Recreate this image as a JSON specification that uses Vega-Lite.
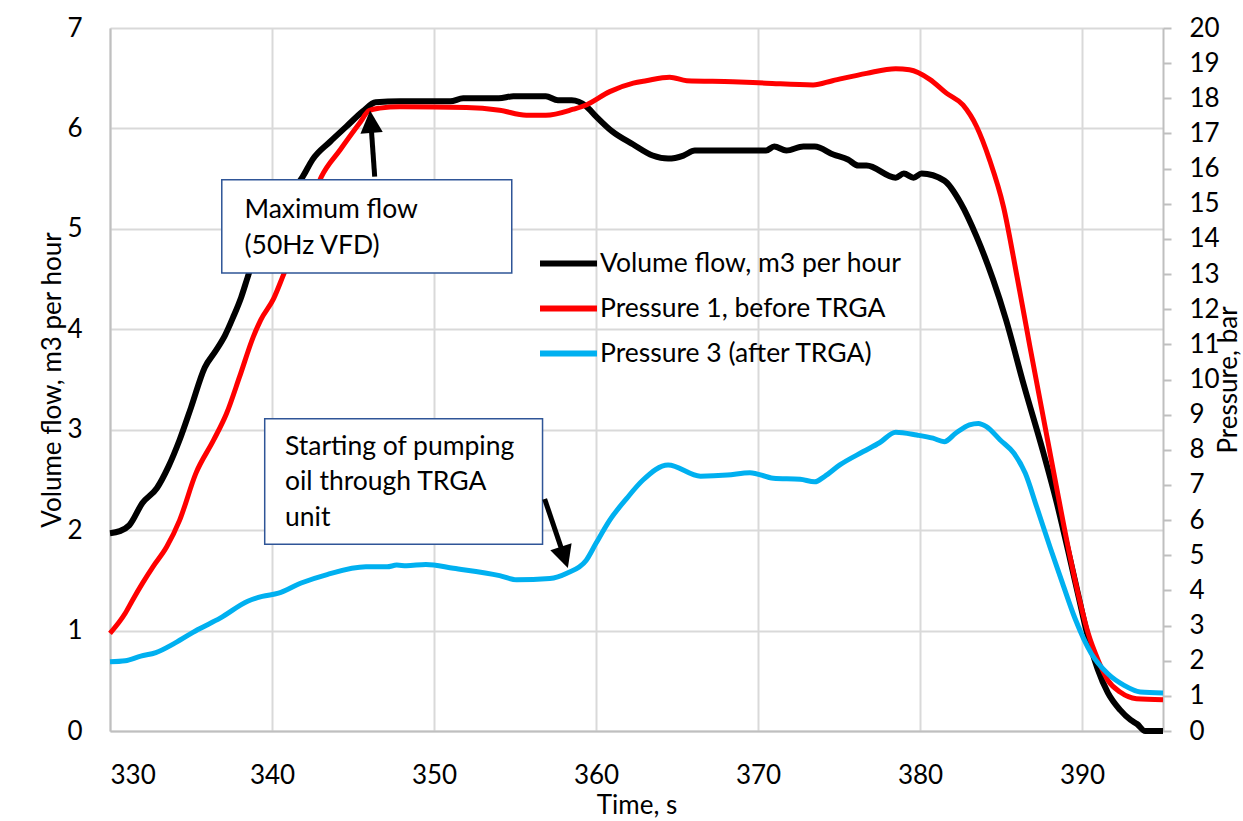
{
  "$schema": "https://vega.github.io/schema/vega-lite/v6.json",
  "width": 1053,
  "height": 703,
  "autosize": {"type": "none"},
  "padding": {"left": 110, "top": 28, "right": 80, "bottom": 90},
  "background": "white",
  "config": {
    "font": "Lato",
    "view": {"stroke": null},
    "axis": {
      "labelFont": "Lato",
      "titleFont": "Lato",
      "labelFontSize": 26,
      "titleFontSize": 26,
      "titleFontWeight": "normal",
      "labelColor": "#000000",
      "titleColor": "#000000",
      "domainColor": "#bfbfbf",
      "domainWidth": 2,
      "gridColor": "#d9d9d9",
      "gridWidth": 2,
      "tickColor": "#bfbfbf",
      "tickWidth": 2
    }
  },
  "datasets": {
    "series": [
      {"t": 330.0, "series": "Volume flow, m3 per hour", "value": 1.97},
      {"t": 330.6, "series": "Volume flow, m3 per hour", "value": 1.99},
      {"t": 331.2, "series": "Volume flow, m3 per hour", "value": 2.05},
      {"t": 332.0, "series": "Volume flow, m3 per hour", "value": 2.27},
      {"t": 332.9, "series": "Volume flow, m3 per hour", "value": 2.42},
      {"t": 333.6, "series": "Volume flow, m3 per hour", "value": 2.63},
      {"t": 334.3, "series": "Volume flow, m3 per hour", "value": 2.9},
      {"t": 335.0, "series": "Volume flow, m3 per hour", "value": 3.22},
      {"t": 335.85, "series": "Volume flow, m3 per hour", "value": 3.62},
      {"t": 336.5, "series": "Volume flow, m3 per hour", "value": 3.78},
      {"t": 337.1, "series": "Volume flow, m3 per hour", "value": 3.94},
      {"t": 337.6, "series": "Volume flow, m3 per hour", "value": 4.12},
      {"t": 338.1, "series": "Volume flow, m3 per hour", "value": 4.32},
      {"t": 338.5, "series": "Volume flow, m3 per hour", "value": 4.52},
      {"t": 339.0, "series": "Volume flow, m3 per hour", "value": 4.76},
      {"t": 340.0, "series": "Volume flow, m3 per hour", "value": 5.08},
      {"t": 341.0, "series": "Volume flow, m3 per hour", "value": 5.32},
      {"t": 341.9, "series": "Volume flow, m3 per hour", "value": 5.52},
      {"t": 342.5, "series": "Volume flow, m3 per hour", "value": 5.69},
      {"t": 343.6, "series": "Volume flow, m3 per hour", "value": 5.87},
      {"t": 344.6, "series": "Volume flow, m3 per hour", "value": 6.02},
      {"t": 345.6, "series": "Volume flow, m3 per hour", "value": 6.17},
      {"t": 346.4, "series": "Volume flow, m3 per hour", "value": 6.26},
      {"t": 347.9, "series": "Volume flow, m3 per hour", "value": 6.27},
      {"t": 351.0, "series": "Volume flow, m3 per hour", "value": 6.27},
      {"t": 351.8, "series": "Volume flow, m3 per hour", "value": 6.3},
      {"t": 354.0, "series": "Volume flow, m3 per hour", "value": 6.3},
      {"t": 354.9, "series": "Volume flow, m3 per hour", "value": 6.32},
      {"t": 356.9, "series": "Volume flow, m3 per hour", "value": 6.32},
      {"t": 357.65, "series": "Volume flow, m3 per hour", "value": 6.28},
      {"t": 358.5, "series": "Volume flow, m3 per hour", "value": 6.28},
      {"t": 359.4, "series": "Volume flow, m3 per hour", "value": 6.22},
      {"t": 360.0, "series": "Volume flow, m3 per hour", "value": 6.12},
      {"t": 361.0, "series": "Volume flow, m3 per hour", "value": 5.97},
      {"t": 362.3, "series": "Volume flow, m3 per hour", "value": 5.84},
      {"t": 363.5, "series": "Volume flow, m3 per hour", "value": 5.73},
      {"t": 364.45, "series": "Volume flow, m3 per hour", "value": 5.7},
      {"t": 365.4, "series": "Volume flow, m3 per hour", "value": 5.73},
      {"t": 366.1, "series": "Volume flow, m3 per hour", "value": 5.78},
      {"t": 370.5, "series": "Volume flow, m3 per hour", "value": 5.78},
      {"t": 371.0, "series": "Volume flow, m3 per hour", "value": 5.82},
      {"t": 371.75, "series": "Volume flow, m3 per hour", "value": 5.78},
      {"t": 372.8, "series": "Volume flow, m3 per hour", "value": 5.82},
      {"t": 373.5, "series": "Volume flow, m3 per hour", "value": 5.82},
      {"t": 374.65, "series": "Volume flow, m3 per hour", "value": 5.74},
      {"t": 375.55, "series": "Volume flow, m3 per hour", "value": 5.69},
      {"t": 376.2, "series": "Volume flow, m3 per hour", "value": 5.63},
      {"t": 376.7, "series": "Volume flow, m3 per hour", "value": 5.63},
      {"t": 378.5, "series": "Volume flow, m3 per hour", "value": 5.51},
      {"t": 379.0, "series": "Volume flow, m3 per hour", "value": 5.55},
      {"t": 379.6, "series": "Volume flow, m3 per hour", "value": 5.51},
      {"t": 380.1, "series": "Volume flow, m3 per hour", "value": 5.55},
      {"t": 381.5, "series": "Volume flow, m3 per hour", "value": 5.48},
      {"t": 382.5, "series": "Volume flow, m3 per hour", "value": 5.26},
      {"t": 383.5, "series": "Volume flow, m3 per hour", "value": 4.92},
      {"t": 384.5, "series": "Volume flow, m3 per hour", "value": 4.5},
      {"t": 385.3, "series": "Volume flow, m3 per hour", "value": 4.1},
      {"t": 386.4, "series": "Volume flow, m3 per hour", "value": 3.45},
      {"t": 387.6, "series": "Volume flow, m3 per hour", "value": 2.78},
      {"t": 388.4, "series": "Volume flow, m3 per hour", "value": 2.3},
      {"t": 389.25, "series": "Volume flow, m3 per hour", "value": 1.72},
      {"t": 389.8, "series": "Volume flow, m3 per hour", "value": 1.33},
      {"t": 390.3, "series": "Volume flow, m3 per hour", "value": 0.98},
      {"t": 390.96, "series": "Volume flow, m3 per hour", "value": 0.62},
      {"t": 391.6, "series": "Volume flow, m3 per hour", "value": 0.38},
      {"t": 392.35, "series": "Volume flow, m3 per hour", "value": 0.21},
      {"t": 393.0, "series": "Volume flow, m3 per hour", "value": 0.11},
      {"t": 393.4, "series": "Volume flow, m3 per hour", "value": 0.07},
      {"t": 393.9, "series": "Volume flow, m3 per hour", "value": 0.0},
      {"t": 395.0, "series": "Volume flow, m3 per hour", "value": 0.0},

      {"t": 330.0, "series": "Pressure 1, before TRGA", "value": 2.78},
      {"t": 330.94, "series": "Pressure 1, before TRGA", "value": 3.35},
      {"t": 331.4, "series": "Pressure 1, before TRGA", "value": 3.73},
      {"t": 332.0, "series": "Pressure 1, before TRGA", "value": 4.2},
      {"t": 332.65, "series": "Pressure 1, before TRGA", "value": 4.67},
      {"t": 333.5, "series": "Pressure 1, before TRGA", "value": 5.24},
      {"t": 334.3, "series": "Pressure 1, before TRGA", "value": 6.0},
      {"t": 335.3, "series": "Pressure 1, before TRGA", "value": 7.33},
      {"t": 336.4, "series": "Pressure 1, before TRGA", "value": 8.28},
      {"t": 337.2, "series": "Pressure 1, before TRGA", "value": 9.04},
      {"t": 338.0, "series": "Pressure 1, before TRGA", "value": 10.08},
      {"t": 338.85, "series": "Pressure 1, before TRGA", "value": 11.22},
      {"t": 339.3, "series": "Pressure 1, before TRGA", "value": 11.69},
      {"t": 340.1, "series": "Pressure 1, before TRGA", "value": 12.3},
      {"t": 340.7, "series": "Pressure 1, before TRGA", "value": 12.97},
      {"t": 341.5, "series": "Pressure 1, before TRGA", "value": 13.9},
      {"t": 342.3, "series": "Pressure 1, before TRGA", "value": 14.9},
      {"t": 343.05, "series": "Pressure 1, before TRGA", "value": 15.77},
      {"t": 344.2, "series": "Pressure 1, before TRGA", "value": 16.53},
      {"t": 345.4, "series": "Pressure 1, before TRGA", "value": 17.29},
      {"t": 346.0, "series": "Pressure 1, before TRGA", "value": 17.65},
      {"t": 346.65, "series": "Pressure 1, before TRGA", "value": 17.72},
      {"t": 347.9, "series": "Pressure 1, before TRGA", "value": 17.76},
      {"t": 352.0, "series": "Pressure 1, before TRGA", "value": 17.74},
      {"t": 354.05, "series": "Pressure 1, before TRGA", "value": 17.66},
      {"t": 355.7, "series": "Pressure 1, before TRGA", "value": 17.52},
      {"t": 356.9, "series": "Pressure 1, before TRGA", "value": 17.52},
      {"t": 358.6, "series": "Pressure 1, before TRGA", "value": 17.69},
      {"t": 359.4, "series": "Pressure 1, before TRGA", "value": 17.81},
      {"t": 360.85, "series": "Pressure 1, before TRGA", "value": 18.19},
      {"t": 362.3, "series": "Pressure 1, before TRGA", "value": 18.43},
      {"t": 363.1, "series": "Pressure 1, before TRGA", "value": 18.5},
      {"t": 364.55, "series": "Pressure 1, before TRGA", "value": 18.6},
      {"t": 365.6, "series": "Pressure 1, before TRGA", "value": 18.5},
      {"t": 368.45, "series": "Pressure 1, before TRGA", "value": 18.47},
      {"t": 370.5, "series": "Pressure 1, before TRGA", "value": 18.43},
      {"t": 373.4, "series": "Pressure 1, before TRGA", "value": 18.38},
      {"t": 374.6, "series": "Pressure 1, before TRGA", "value": 18.5},
      {"t": 376.7, "series": "Pressure 1, before TRGA", "value": 18.71},
      {"t": 378.5, "series": "Pressure 1, before TRGA", "value": 18.84},
      {"t": 379.35, "series": "Pressure 1, before TRGA", "value": 18.81},
      {"t": 380.6, "series": "Pressure 1, before TRGA", "value": 18.54},
      {"t": 381.65, "series": "Pressure 1, before TRGA", "value": 18.14},
      {"t": 382.65, "series": "Pressure 1, before TRGA", "value": 17.81},
      {"t": 383.5, "series": "Pressure 1, before TRGA", "value": 17.19},
      {"t": 384.3, "series": "Pressure 1, before TRGA", "value": 16.24},
      {"t": 385.15, "series": "Pressure 1, before TRGA", "value": 14.92},
      {"t": 386.0, "series": "Pressure 1, before TRGA", "value": 12.9},
      {"t": 386.8, "series": "Pressure 1, before TRGA", "value": 10.9},
      {"t": 387.6, "series": "Pressure 1, before TRGA", "value": 8.95},
      {"t": 388.4, "series": "Pressure 1, before TRGA", "value": 7.0},
      {"t": 389.2, "series": "Pressure 1, before TRGA", "value": 5.1},
      {"t": 389.85, "series": "Pressure 1, before TRGA", "value": 3.73},
      {"t": 390.4, "series": "Pressure 1, before TRGA", "value": 2.75},
      {"t": 391.0, "series": "Pressure 1, before TRGA", "value": 2.01},
      {"t": 391.6, "series": "Pressure 1, before TRGA", "value": 1.44},
      {"t": 392.35, "series": "Pressure 1, before TRGA", "value": 1.11},
      {"t": 393.36, "series": "Pressure 1, before TRGA", "value": 0.92},
      {"t": 395.0, "series": "Pressure 1, before TRGA", "value": 0.89},

      {"t": 330.0, "series": "Pressure 3 (after TRGA)", "value": 1.97},
      {"t": 330.94, "series": "Pressure 3 (after TRGA)", "value": 2.0},
      {"t": 331.9, "series": "Pressure 3 (after TRGA)", "value": 2.13},
      {"t": 332.83, "series": "Pressure 3 (after TRGA)", "value": 2.23},
      {"t": 334.0, "series": "Pressure 3 (after TRGA)", "value": 2.5},
      {"t": 335.4, "series": "Pressure 3 (after TRGA)", "value": 2.88},
      {"t": 336.8, "series": "Pressure 3 (after TRGA)", "value": 3.21},
      {"t": 338.5, "series": "Pressure 3 (after TRGA)", "value": 3.69},
      {"t": 339.4, "series": "Pressure 3 (after TRGA)", "value": 3.83},
      {"t": 340.4, "series": "Pressure 3 (after TRGA)", "value": 3.92},
      {"t": 341.8, "series": "Pressure 3 (after TRGA)", "value": 4.21},
      {"t": 343.4, "series": "Pressure 3 (after TRGA)", "value": 4.45},
      {"t": 345.8, "series": "Pressure 3 (after TRGA)", "value": 4.67},
      {"t": 347.1, "series": "Pressure 3 (after TRGA)", "value": 4.67},
      {"t": 347.7, "series": "Pressure 3 (after TRGA)", "value": 4.72},
      {"t": 348.3, "series": "Pressure 3 (after TRGA)", "value": 4.7},
      {"t": 349.5, "series": "Pressure 3 (after TRGA)", "value": 4.74},
      {"t": 351.2, "series": "Pressure 3 (after TRGA)", "value": 4.63},
      {"t": 354.05, "series": "Pressure 3 (after TRGA)", "value": 4.42},
      {"t": 355.1, "series": "Pressure 3 (after TRGA)", "value": 4.3},
      {"t": 357.15, "series": "Pressure 3 (after TRGA)", "value": 4.34},
      {"t": 358.2, "series": "Pressure 3 (after TRGA)", "value": 4.49},
      {"t": 359.4, "series": "Pressure 3 (after TRGA)", "value": 4.86},
      {"t": 360.0, "series": "Pressure 3 (after TRGA)", "value": 5.34},
      {"t": 360.85, "series": "Pressure 3 (after TRGA)", "value": 6.0},
      {"t": 361.9, "series": "Pressure 3 (after TRGA)", "value": 6.62},
      {"t": 362.9, "series": "Pressure 3 (after TRGA)", "value": 7.14},
      {"t": 364.45, "series": "Pressure 3 (after TRGA)", "value": 7.57},
      {"t": 366.45, "series": "Pressure 3 (after TRGA)", "value": 7.25},
      {"t": 368.1, "series": "Pressure 3 (after TRGA)", "value": 7.28},
      {"t": 369.5, "series": "Pressure 3 (after TRGA)", "value": 7.35},
      {"t": 370.95, "series": "Pressure 3 (after TRGA)", "value": 7.19},
      {"t": 372.6, "series": "Pressure 3 (after TRGA)", "value": 7.16},
      {"t": 373.5, "series": "Pressure 3 (after TRGA)", "value": 7.09},
      {"t": 374.1, "series": "Pressure 3 (after TRGA)", "value": 7.24},
      {"t": 375.05, "series": "Pressure 3 (after TRGA)", "value": 7.57},
      {"t": 376.5, "series": "Pressure 3 (after TRGA)", "value": 7.95},
      {"t": 377.5, "series": "Pressure 3 (after TRGA)", "value": 8.2},
      {"t": 378.5, "series": "Pressure 3 (after TRGA)", "value": 8.5},
      {"t": 379.8, "series": "Pressure 3 (after TRGA)", "value": 8.42},
      {"t": 380.8, "series": "Pressure 3 (after TRGA)", "value": 8.33},
      {"t": 381.5, "series": "Pressure 3 (after TRGA)", "value": 8.23},
      {"t": 382.2, "series": "Pressure 3 (after TRGA)", "value": 8.47},
      {"t": 383.05, "series": "Pressure 3 (after TRGA)", "value": 8.71},
      {"t": 383.6, "series": "Pressure 3 (after TRGA)", "value": 8.75},
      {"t": 384.1, "series": "Pressure 3 (after TRGA)", "value": 8.66},
      {"t": 384.95, "series": "Pressure 3 (after TRGA)", "value": 8.28},
      {"t": 385.8, "series": "Pressure 3 (after TRGA)", "value": 7.9},
      {"t": 386.5, "series": "Pressure 3 (after TRGA)", "value": 7.33},
      {"t": 387.2, "series": "Pressure 3 (after TRGA)", "value": 6.38},
      {"t": 388.05, "series": "Pressure 3 (after TRGA)", "value": 5.2},
      {"t": 388.8, "series": "Pressure 3 (after TRGA)", "value": 4.2},
      {"t": 389.57, "series": "Pressure 3 (after TRGA)", "value": 3.2},
      {"t": 390.58, "series": "Pressure 3 (after TRGA)", "value": 2.2},
      {"t": 391.6, "series": "Pressure 3 (after TRGA)", "value": 1.63},
      {"t": 392.6, "series": "Pressure 3 (after TRGA)", "value": 1.3},
      {"t": 393.6, "series": "Pressure 3 (after TRGA)", "value": 1.11},
      {"t": 395.0, "series": "Pressure 3 (after TRGA)", "value": 1.08}
    ],
    "boxes": [
      {"t0": 336.9, "t1": 354.8, "f0": 5.49, "f1": 4.56, "label": "Maximum flow\n(50Hz VFD)", "tx": 338.3, "ty": 5.107},
      {"t0": 339.55, "t1": 356.7, "f0": 3.11, "f1": 1.86, "label": "Starting of pumping\noil through TRGA\nunit", "tx": 340.8, "ty": 2.749}
    ],
    "arrows": [
      {"id": "a1", "t0": 346.34, "f0": 5.52, "t1": 346.1, "f1": 6.067},
      {"id": "a2", "t0": 356.83, "f0": 2.31, "t1": 358.05, "f1": 1.729}
    ]
  },
  "layer": [
    {
      "data": {"name": "series"},
      "transform": [{"filter": "datum.series === 'Volume flow, m3 per hour'"}],
      "mark": {"type": "line", "strokeWidth": 6, "interpolate": "monotone"},
      "encoding": {
        "x": {
          "field": "t", "type": "quantitative",
          "scale": {"domain": [330, 395], "nice": false, "zero": false},
          "axis": {"values": [330, 340, 350, 360, 370, 380, 390], "title": "Time, s", "ticks": false, "labelPadding": 31, "titlePadding": 4, "grid": true}
        },
        "y": {
          "field": "value", "type": "quantitative",
          "scale": {"domain": [0, 7], "nice": false},
          "axis": {"orient": "left", "values": [0, 1, 2, 3, 4, 5, 6, 7], "title": "Volume flow, m3 per hour", "ticks": false, "labelPadding": 28, "titlePadding": 1, "grid": true}
        },
        "color": {
          "field": "series", "type": "nominal",
          "scale": {"domain": ["Volume flow, m3 per hour", "Pressure 1, before TRGA", "Pressure 3 (after TRGA)"], "range": ["#000000", "#ff0000", "#00b0f0"]},
          "legend": {
            "orient": "none", "legendX": 427, "legendY": 204, "title": null,
            "symbolType": "stroke", "symbolSize": 3249, "symbolStrokeWidth": 6,
            "labelFontSize": 26.5, "labelFont": "Lato", "labelColor": "#000000", "labelLimit": 0, "labelOffset": 0,
            "rowPadding": -11
          }
        }
      }
    },
    {
      "data": {"name": "series"},
      "transform": [{"filter": "datum.series !== 'Volume flow, m3 per hour'"}],
      "mark": {"type": "line", "strokeWidth": 5, "interpolate": "monotone"},
      "encoding": {
        "x": {"field": "t", "type": "quantitative"},
        "y": {
          "field": "value", "type": "quantitative",
          "scale": {"domain": [0, 20], "nice": false},
          "axis": {"orient": "right", "values": [0,1,2,3,4,5,6,7,8,9,10,11,12,13,14,15,16,17,18,19,20], "title": "Pressure, bar", "titleAngle": 270, "titleBaseline": "alphabetic", "tickSize": 8, "labelPadding": 18, "titlePadding": 17, "grid": false}
        },
        "color": {"field": "series", "type": "nominal"}
      }
    },
    {
      "layer": [
        {
          "data": {"name": "boxes"},
          "mark": {"type": "rect", "fill": "#ffffff", "stroke": "#2f5597", "strokeWidth": 1.5},
          "encoding": {
            "x": {"field": "t0", "type": "quantitative"},
            "x2": {"field": "t1"},
            "y": {"field": "f0", "type": "quantitative", "scale": {"domain": [0, 7], "nice": false}, "axis": null},
            "y2": {"field": "f1"}
          }
        },
        {
          "data": {"name": "boxes"},
          "mark": {"type": "text", "align": "left", "baseline": "alphabetic", "fontSize": 26.5, "font": "Lato", "color": "#000000", "lineBreak": "\n", "lineHeight": 35.5},
          "encoding": {
            "x": {"field": "tx", "type": "quantitative"},
            "y": {"field": "ty", "type": "quantitative"},
            "text": {"field": "label"}
          }
        },
        {
          "data": {"name": "arrows"},
          "mark": {"type": "rule", "strokeWidth": 5, "color": "#000000"},
          "encoding": {
            "x": {"field": "t0", "type": "quantitative"},
            "x2": {"field": "t1"},
            "y": {"field": "f0", "type": "quantitative"},
            "y2": {"field": "f1"}
          }
        },
        {
          "data": {"name": "arrows"},
          "transform": [{"filter": "datum.id === 'a1'"}],
          "mark": {"type": "point", "shape": "M0,-1L1,1L-1,1Z", "filled": true, "color": "#000000", "opacity": 1, "size": 500, "angle": 356},
          "encoding": {
            "x": {"field": "t1", "type": "quantitative"},
            "y": {"field": "f1", "type": "quantitative"}
          }
        },
        {
          "data": {"name": "arrows"},
          "transform": [{"filter": "datum.id === 'a2'"}],
          "mark": {"type": "point", "shape": "M0,-1L1,1L-1,1Z", "filled": true, "color": "#000000", "opacity": 1, "size": 500, "angle": 162},
          "encoding": {
            "x": {"field": "t1", "type": "quantitative"},
            "y": {"field": "f1", "type": "quantitative"}
          }
        }
      ]
    }
  ],
  "resolve": {"scale": {"y": "independent"}}
}
